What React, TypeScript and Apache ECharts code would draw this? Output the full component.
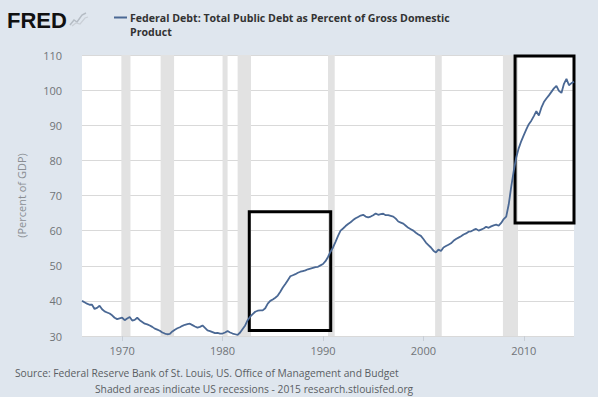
import React, { useEffect, useRef } from "react";
import * as echarts from "echarts";

// Quarterly values, 1966 Q1 .. 2015 Q1 (percent of GDP)
const START_YEAR = 1966;
const debtPctGdp: number[] = [
  40.0, 39.6, 39.2, 38.9,
  38.9, 37.7, 38.0, 38.6,
  37.6, 37.0, 36.7, 36.4,
  35.9, 35.2, 34.8, 35.0,
  35.2, 34.5, 35.0, 35.4,
  34.4, 34.6, 35.2, 34.5,
  34.0, 33.5, 33.3, 33.0,
  32.6, 32.1, 31.8, 31.5,
  31.0, 30.7, 30.5, 30.6,
  31.3, 31.8, 32.2, 32.5,
  32.9, 33.2, 33.4, 33.5,
  33.1, 32.7, 32.4, 32.6,
  33.0, 32.3, 31.6, 31.4,
  31.1, 30.8, 30.9, 30.7,
  30.7, 31.0, 31.4, 31.0,
  30.7, 30.5, 30.3, 31.0,
  32.0, 33.0, 34.5, 35.5,
  36.2, 36.9, 37.2, 37.3,
  37.3, 37.9, 39.2, 40.0,
  40.4, 40.9, 41.5, 42.6,
  43.8, 44.8, 45.9, 47.0,
  47.3, 47.6, 48.0, 48.3,
  48.5, 48.7, 49.0, 49.2,
  49.4, 49.6, 49.7, 50.1,
  50.5, 51.3, 52.5, 54.0,
  55.2, 56.8, 58.5, 60.0,
  60.6, 61.3, 61.9, 62.4,
  63.0, 63.5, 63.9, 64.3,
  64.5, 64.0, 63.8, 64.0,
  64.4, 64.9, 64.5, 64.7,
  64.8, 64.4, 64.4, 64.2,
  64.0, 63.4, 62.6, 62.3,
  62.0, 61.4, 60.8, 60.4,
  60.0, 59.4, 58.9, 58.5,
  57.6, 56.6, 55.9, 55.2,
  54.3, 53.8, 54.6, 54.2,
  55.2, 55.6, 56.0, 56.4,
  57.1, 57.6, 58.0, 58.4,
  58.9, 59.2, 59.7, 59.8,
  60.2, 60.5, 60.0, 60.3,
  60.6, 61.1, 60.8, 61.2,
  61.5, 61.7, 61.4, 62.2,
  63.3, 64.0, 67.5, 72.5,
  77.0, 80.9, 83.5, 85.5,
  87.2, 88.8, 90.3, 91.3,
  92.6, 94.0, 92.8, 95.0,
  96.6, 97.6, 98.5, 99.5,
  100.5, 101.2, 99.8, 99.2,
  101.8, 103.2, 101.4, 102.0,
  102.4,
];

// Recession periods (start, end) in decimal years
const recessions: [number, number][] = [
  [1969.92, 1970.83],
  [1973.83, 1975.17],
  [1980.0, 1980.5],
  [1981.5, 1982.83],
  [1990.5, 1991.17],
  [2001.17, 2001.83],
  [2007.92, 2009.42],
];

// Highlight boxes: [x0, y0, x1, y1] in data units
const highlightBoxes: [number, number, number, number][] = [
  [1982.66, 65.4, 1990.77, 31.6],
  [2009.13, 109.7, 2015.3, 62.2],
];

const xTickYears = [1970, 1980, 1990, 2000, 2010];
const yTicks = { min: 30, max: 110, step: 10 };

const seriesName = "Federal Debt: Total Public Debt as Percent of Gross Domestic Product";
const titleLine1 = "Federal Debt: Total Public Debt as Percent of Gross Domestic";
const titleLine2 = "Product";
const yAxisName = "(Percent of GDP)";
const footer1 = "Source: Federal Reserve Bank of St. Louis, US. Office of Management and Budget";
const footer2 = "Shaded areas indicate US recessions - 2015 research.stlouisfed.org";

const LINE_COLOR = "#4a6894";
const FONT = "'Open Sans', 'DejaVu Sans', sans-serif";

export default function App() {
  const ref = useRef<HTMLDivElement>(null);

  useEffect(() => {
    if (!ref.current) return;
    const chart = echarts.init(ref.current, undefined, { renderer: "svg" });
    const data = debtPctGdp.map((v, i) => [START_YEAR + i / 4, v]);
    const lastX = START_YEAR + (debtPctGdp.length - 1) / 4;

    chart.setOption({
      animation: false,
      backgroundColor: "#dfe6ee",
      textStyle: { fontFamily: FONT },
      grid: {
        left: 82,
        top: 55,
        width: 492,
        height: 281,
        show: true,
        backgroundColor: "#ffffff",
        borderWidth: 0,
        containLabel: false,
      },
      xAxis: {
        type: "value",
        min: START_YEAR,
        max: lastX,
        axisLine: { show: false },
        splitLine: { show: false },
        axisTick: {
          show: true,
          customValues: xTickYears,
          length: 5,
          lineStyle: { color: "#c8ced6" },
        },
        axisLabel: {
          customValues: xTickYears,
          formatter: (v: number) => String(Math.round(v)),
          color: "#707478",
          fontSize: 11,
          fontFamily: FONT,
          margin: 9,
        },
      },
      yAxis: {
        type: "value",
        min: yTicks.min,
        max: yTicks.max,
        interval: yTicks.step,
        name: yAxisName,
        nameLocation: "middle",
        nameRotate: 90,
        nameGap: 55,
        nameTextStyle: { color: "#8a8e93", fontSize: 11, fontFamily: FONT },
        axisLine: { show: false },
        axisTick: { show: false },
        splitLine: { lineStyle: { color: "#d9d9d9", width: 1 } },
        axisLabel: { color: "#707478", fontSize: 11, fontFamily: FONT, margin: 20 },
      },
      series: [
        {
          name: "recessions",
          type: "line",
          data: [],
          z: 1,
          silent: true,
          markArea: {
            silent: true,
            itemStyle: { color: "#e2e2e2" },
            data: recessions.map(([a, b]) => [{ xAxis: a }, { xAxis: b }]),
          },
        },
        {
          name: seriesName,
          type: "line",
          data,
          z: 3,
          symbol: "none",
          showSymbol: false,
          lineStyle: { color: LINE_COLOR, width: 1.8 },
        },
        {
          name: "highlights",
          type: "line",
          data: [],
          z: 4,
          clip: false,
          silent: true,
          markArea: {
            silent: true,
            itemStyle: { color: "rgba(0,0,0,0)", borderColor: "#000000", borderWidth: 3 },
            data: highlightBoxes.map(([x0, y0, x1, y1]) => [
              { coord: [x0, y0] },
              { coord: [x1, y1] },
            ]),
          },
        },
      ],
      graphic: [
        {
          type: "text",
          left: 7,
          top: 9,
          style: {
            text: "FRED",
            fontSize: 22,
            fontWeight: "bold",
            fontFamily: "'Liberation Sans', Arial, sans-serif",
            fill: "#111111",
          },
        },
        {
          type: "polyline",
          shape: { points: [[70, 25], [74, 20], [77, 22], [82, 15], [86, 13]] },
          style: { stroke: "#b5bcc4", lineWidth: 1.5, fill: "none" },
        },
        {
          type: "polyline",
          shape: { points: [[72, 26], [76, 23], [80, 24], [85, 18], [88, 17]] },
          style: { stroke: "#c9cfd6", lineWidth: 1.2, fill: "none" },
        },
        {
          type: "line",
          shape: { x1: 114, y1: 17.5, x2: 127, y2: 17.5 },
          style: { stroke: LINE_COLOR, lineWidth: 2 },
        },
        {
          type: "text",
          x: 130,
          y: 17.5,
          style: {
            text: titleLine1,
            fontSize: 10.6,
            fontWeight: "bold",
            fontFamily: FONT,
            fill: "#333333",
            verticalAlign: "middle",
          },
        },
        {
          type: "text",
          x: 130,
          y: 31.5,
          style: {
            text: titleLine2,
            fontSize: 10.6,
            fontWeight: "bold",
            fontFamily: FONT,
            fill: "#333333",
            verticalAlign: "middle",
          },
        },
        {
          type: "text",
          x: 15,
          y: 373,
          style: {
            text: footer1,
            fontSize: 10.25,
            fontFamily: FONT,
            fill: "#5a5e63",
            verticalAlign: "middle",
          },
        },
        {
          type: "text",
          x: 95,
          y: 389,
          style: {
            text: footer2,
            fontSize: 10.25,
            fontFamily: FONT,
            fill: "#5a5e63",
            verticalAlign: "middle",
          },
        },
      ],
    });

    return () => chart.dispose();
  }, []);

  return (
    <div
      ref={ref}
      style={{ position: "fixed", left: 0, top: 0, width: 598, height: 397 }}
    />
  );
}
